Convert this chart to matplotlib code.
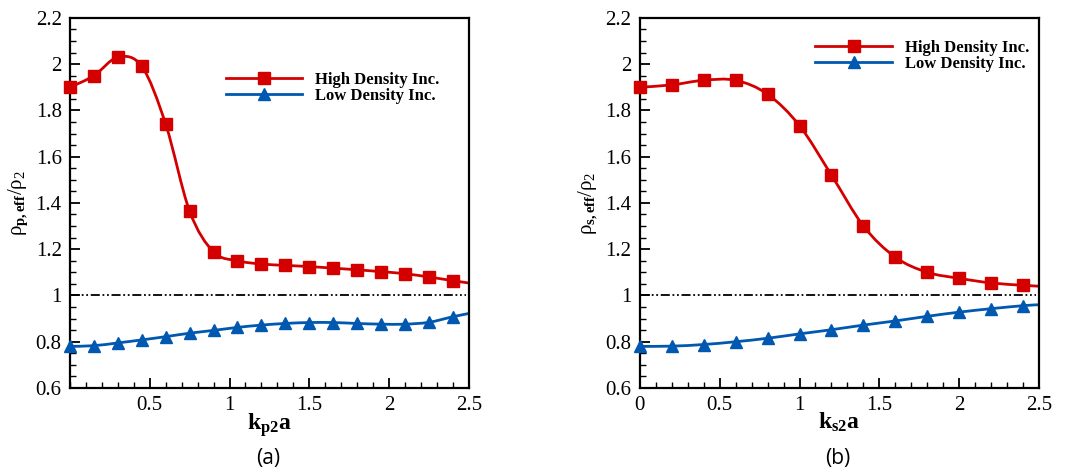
import numpy as np
import matplotlib
matplotlib.use("Agg")
import matplotlib.pyplot as plt
from matplotlib.path import Path
from matplotlib.patches import PathPatch
from matplotlib.lines import Line2D
from matplotlib.ticker import MultipleLocator

plt.rcParams['font.family'] = 'serif'
plt.rcParams['font.serif'] = ['Liberation Serif', 'DejaVu Serif']
plt.rcParams['mathtext.fontset'] = 'custom'
plt.rcParams['mathtext.rm'] = 'Liberation Serif'
plt.rcParams['mathtext.it'] = 'Liberation Serif'
plt.rcParams['mathtext.bf'] = 'Liberation Serif:bold'

# panel (a): k_p2 a
ka = [0, 0.15, 0.3, 0.45, 0.6, 0.75, 0.9, 1.05, 1.2, 1.35, 1.5, 1.65, 1.8, 1.95, 2.1, 2.25, 2.4, 2.5]
high_a = [1.90, 1.95, 2.03, 1.99, 1.74, 1.364, 1.188, 1.15, 1.136, 1.13, 1.125, 1.118, 1.111, 1.103,
          1.094, 1.08, 1.064, 1.054]
low_a = [0.78, 0.783, 0.795, 0.808, 0.822, 0.837, 0.849, 0.862, 0.872, 0.879, 0.883, 0.883, 0.879,
         0.876, 0.876, 0.884, 0.908, 0.922]

# panel (b): k_s2 a
kb = [0, 0.2, 0.4, 0.6, 0.8, 1.0, 1.2, 1.4, 1.6, 1.8, 2.0, 2.2, 2.4, 2.5]
high_b = [1.90, 1.91, 1.93, 1.93, 1.87, 1.734, 1.52, 1.30, 1.165, 1.10, 1.074, 1.054, 1.044, 1.04]
low_b = [0.78, 0.781, 0.788, 0.80, 0.815, 0.834, 0.852, 0.872, 0.89, 0.91, 0.928, 0.943, 0.956, 0.96]

RED = '#d40000'
BLUE = '#0058b0'
SERIF = 'Liberation Serif'


def smooth_path(x, y):
    # curve through the points (Catmull-Rom as cubic bezier)
    pts = np.column_stack([x, y])
    n = len(pts)
    verts = [pts[0]]
    codes = [Path.MOVETO]
    for i in range(n - 1):
        p0 = pts[max(i - 1, 0)]
        p1 = pts[i]
        p2 = pts[i + 1]
        p3 = pts[min(i + 2, n - 1)]
        verts += [p1 + (p2 - p0) / 6, p2 - (p3 - p1) / 6, p2]
        codes += [Path.CURVE4] * 3
    return Path(verts, codes)


def draw_panel(ax, x, hi, lo, xlabel, ylabel, xticks, leg_pos):
    ax.add_patch(PathPatch(smooth_path(x, hi), fill=False, ec=RED, lw=2))
    ax.add_patch(PathPatch(smooth_path(x, lo), fill=False, ec=BLUE, lw=2))
    ax.plot(x[:-1], hi[:-1], ls='none', marker='s', ms=8.5, color=RED, clip_on=False, zorder=4)
    ax.plot(x[:-1], lo[:-1], ls='none', marker='^', ms=8.5, color=BLUE, clip_on=False, zorder=4)
    ax.plot([0, 2.48], [1, 1], color='black', lw=1.3, dashes=(5, 1.5, 1, 1.5, 1, 1.5))

    yticks = np.arange(0.6, 2.21, 0.2)
    ax.set_xlim(0, 2.5)
    ax.set_ylim(0.6, 2.2)
    ax.set_xticks(xticks)
    ax.set_xticklabels(['%g' % t for t in xticks], fontfamily=SERIF, fontsize=15)
    ax.set_yticks(yticks)
    ax.set_yticklabels(['%g' % round(t, 1) for t in yticks], fontfamily=SERIF, fontsize=15)
    ax.xaxis.set_minor_locator(MultipleLocator(0.1))
    ax.yaxis.set_minor_locator(MultipleLocator(0.05))
    ax.tick_params(which='both', direction='in', top=False, right=False, pad=6)
    ax.tick_params(which='major', length=7, width=1.3)
    ax.tick_params(which='minor', length=4, width=1)
    for s in ax.spines.values():
        s.set_linewidth(1.6)

    ax.set_xlabel(xlabel, fontsize=17, labelpad=-3)
    ax.set_ylabel(ylabel, fontsize=15, labelpad=4)

    handles = [Line2D([], [], color=RED, lw=2, marker='s', ms=8.5),
               Line2D([], [], color=BLUE, lw=2, marker='^', ms=8.5)]
    ax.legend(handles, ['High Density Inc.', 'Low Density Inc.'], loc='upper left',
              bbox_to_anchor=leg_pos, frameon=False, handlelength=4.6, handletextpad=0.75,
              labelspacing=0.0, borderpad=0, borderaxespad=0,
              prop={'family': SERIF, 'weight': 'bold', 'size': 12})


fig = plt.figure(figsize=(10.66, 4.74), dpi=100)
ax1 = fig.add_axes([0.0657, 0.1814, 0.374, 0.781])
ax2 = fig.add_axes([0.600, 0.1814, 0.375, 0.781])

draw_panel(ax1, ka, high_a, low_a, r'$\mathbf{k}_{\mathbf{p2}}\mathbf{a}$',
           r'$\rho_{\mathbf{p,eff}}/\rho_{\mathrm{2}}$', [0.5, 1, 1.5, 2, 2.5], (0.39, 0.853))
draw_panel(ax2, kb, high_b, low_b, r'$\mathbf{k}_{\mathbf{s2}}\mathbf{a}$',
           r'$\rho_{\mathbf{s,eff}}/\rho_{\mathrm{2}}$', [0, 0.5, 1, 1.5, 2, 2.5], (0.44, 0.94))

fig.text(0.252, 0.033, '(a)', ha='center', va='center', fontsize=15, family='Open Sans')
fig.text(0.786, 0.033, '(b)', ha='center', va='center', fontsize=15, family='Open Sans')

fig.savefig('out.png', dpi=100)
